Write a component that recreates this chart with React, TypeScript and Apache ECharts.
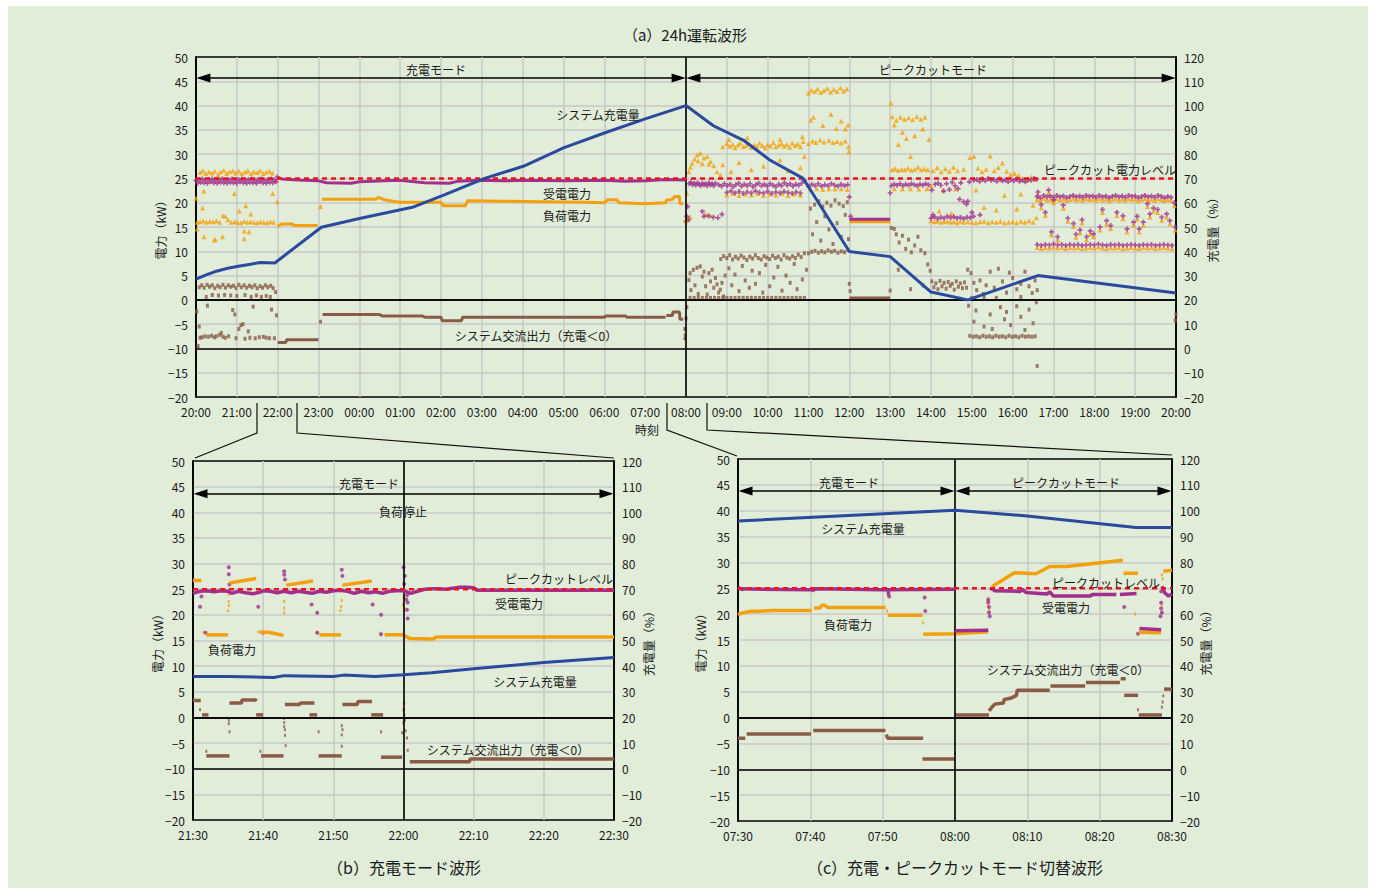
import React, { useEffect, useRef } from 'react';
import * as echarts from 'echarts';

// ---------- common values ----------
const PEAK_CUT_KW = 25;
const KW_AXIS = { min: -20, max: 50, interval: 5 };
const SOC_AXIS = { min: -20, max: 120, interval: 10 };

// ---------- (a) 24h: x = hours after 20:00 ----------
const A_START_HOUR = 20;
const A_SWITCH = 12;
const A_SOC = [[0, 28.5], [0.25, 30.3], [0.5, 31.8], [0.75, 32.9], [1, 33.7], [1.3, 34.6], [1.58, 35.4], [1.93, 35.2], [3.07, 49.9], [4.03, 53.6], [5.3, 58.1], [6.08, 63.2], [7.07, 70], [8.03, 75.1], [9.0, 82.6], [10.0, 88.7], [11.0, 94.5], [12.0, 100], [12.67, 91.7], [13.4, 85.8], [14.05, 77.6], [14.87, 70], [16.0, 39.9], [17.0, 37.8], [18.0, 23.2], [18.9, 20], [20.62, 30], [24, 22.8]];
const A_LOAD_SEGS = [
  [[2.0, 15.1], [2.08, 15.6], [2.35, 15.6], [2.42, 15.3], [2.98, 15.3]],
  [[3.08, 20.7], [4.4, 20.7], [4.47, 21.1], [4.62, 20.6], [4.9, 20.2], [5.0, 20.1], [6.0, 20.1], [6.05, 19.4], [6.6, 19.4], [6.65, 20.4], [7.5, 20.3], [8.5, 20.2], [9.5, 20.1], [10.0, 20.0], [10.08, 20.6], [10.3, 20.6], [10.36, 20.0], [11.0, 19.8], [11.5, 20.0], [11.52, 20.5], [11.67, 20.7], [11.72, 21.3], [11.84, 21.3], [11.85, 19.8], [11.93, 19.8]],
  [[11.94, 16.1], [12.0, 16.2]],
  [[16.0, 16.1], [17.0, 16.1]],
];
const A_RECV_SEGS = [
  [[2.0, 25.2], [2.1, 24.9], [2.5, 24.7], [3.0, 24.5], [3.2, 24.1], [3.8, 24.0], [4.0, 24.3], [4.6, 24.5], [5.0, 24.6], [5.6, 24.1], [6.2, 24.0], [6.4, 24.4], [7.0, 24.6], [7.5, 24.5], [8.0, 24.6], [9.0, 24.5], [10.0, 24.6], [10.5, 24.4], [11.0, 24.5], [11.5, 24.8], [12.0, 24.7]],
  [[16.0, 16.6], [17.0, 16.6]],
];
const A_AC_SEGS = [
  [[2.0, -8.8], [2.2, -8.8], [2.22, -8.2], [3.0, -8.2]],
  [[3.1, -3.0], [4.5, -3.0], [4.55, -3.3], [5.55, -3.3], [5.6, -3.6], [6.0, -3.6], [6.03, -4.3], [6.5, -4.3], [6.53, -3.6], [10.0, -3.6], [10.03, -3.3], [10.52, -3.3], [10.55, -3.6], [11.5, -3.6]],
  [[11.52, -3.2], [11.67, -3.2], [11.68, -2.5], [11.84, -2.5], [11.85, -4.0], [11.93, -4.0]],
  [[11.94, -8.0], [12.0, -8.0]],
  [[16.0, 0.4], [17.0, 0.4]],
];
const A_LOAD_DOTS = [
  [0.1, 26.2], [0.17, 26.6], [0.24, 26.0], [0.32, 26.4], [0.39, 26.1], [0.46, 26.5], [0.54, 25.8], [0.6, 26.3], [0.68, 26.7], [0.75, 26.0], [0.82, 26.4], [0.9, 26.6], [0.97, 26.1], [1.05, 26.5], [1.12, 26.0], [1.2, 26.3], [1.27, 26.6], [1.35, 26.0], [1.42, 26.4], [1.5, 26.2], [1.57, 26.6], [1.65, 26.0], [1.72, 26.3], [1.8, 26.5], [1.87, 26.1],
  [0.03, 16.0], [0.1, 16.1], [0.18, 16.3], [0.26, 16.0], [0.34, 16.2], [0.42, 16.1], [0.5, 16.3], [0.58, 16.0], [0.66, 17.3], [0.72, 17.2], [0.78, 16.5], [0.86, 16.0], [0.94, 16.1], [1.02, 16.0], [1.1, 15.9], [1.18, 16.2], [1.26, 16.0], [1.34, 16.1], [1.42, 16.0], [1.5, 15.9], [1.58, 16.1], [1.66, 16.0], [1.74, 15.9], [1.82, 16.1], [1.9, 16.0],
  [0.0, 20.9], [0.03, 14.6], [0.16, 18.9], [0.19, 22.4], [0.2, 13.0], [0.45, 12.3], [0.47, 12.5], [0.65, 13.0], [0.94, 21.9], [1.06, 18.3], [1.18, 14.2], [1.18, 12.6], [1.22, 19.4], [1.3, 14.0], [1.34, 17.7], [1.88, 21.9], [1.99, 20.2], [1.97, 24.8], [3.05, 19.2],
  [12.0, 16.3], [12.02, 22.0], [12.07, 26.4], [12.11, 27.3], [12.15, 28.1], [12.21, 29.0], [12.27, 29.8], [12.35, 30.2], [12.44, 29.2], [12.52, 29.5], [12.6, 28.5], [12.68, 27.6], [12.76, 26.4], [12.84, 25.7], [12.3, 28.6], [12.4, 28.0], [12.56, 27.9], [12.05, 16.6], [12.1, 17.1], [12.48, 17.6], [12.6, 17.3],
  [12.9, 31.5], [13.0, 32.2], [13.07, 31.6], [13.14, 32.0], [13.2, 31.3], [13.27, 31.9], [13.33, 32.3], [13.4, 31.5], [13.47, 31.8], [13.54, 32.2], [13.6, 31.4], [13.67, 31.9], [13.74, 31.6], [13.8, 32.3], [13.87, 31.8], [13.94, 31.3], [14.0, 32.0], [14.07, 31.7], [14.14, 32.4], [14.2, 31.5], [14.27, 31.9], [14.34, 32.2], [14.4, 31.6], [14.47, 32.0], [14.54, 31.4], [14.6, 32.3], [14.67, 31.8], [14.74, 32.1], [14.8, 31.5], [14.87, 32.6],
  [13.05, 33.0], [13.5, 33.4], [14.3, 33.0], [14.85, 33.6],
  [12.9, 27.8], [13.1, 26.4], [13.3, 28.3], [13.6, 26.8], [13.9, 27.5], [14.3, 28.8], [14.5, 26.6], [14.8, 27.2], [14.9, 29.5],
  [13.0, 21.6], [13.15, 21.9], [13.3, 21.5], [13.45, 21.8], [13.6, 21.6], [13.75, 21.9], [13.9, 21.5], [14.05, 21.8], [14.2, 21.6], [14.35, 21.9], [14.5, 21.5], [14.65, 21.8], [14.8, 21.6],
  [15.0, 42.6], [15.07, 43.2], [15.15, 42.9], [15.22, 43.4], [15.3, 42.7], [15.38, 43.1], [15.46, 43.5], [15.54, 42.8], [15.62, 43.3], [15.7, 42.9], [15.78, 43.6], [15.86, 43.0], [15.94, 43.4],
  [15.05, 37.0], [15.12, 37.6], [15.35, 35.9], [15.55, 38.2], [15.68, 35.3], [15.8, 36.8], [15.9, 35.2], [15.97, 36.0],
  [15.0, 32.2], [15.1, 32.7], [15.18, 32.4], [15.28, 32.9], [15.38, 32.5], [15.5, 32.8], [15.6, 32.4], [15.7, 32.6], [15.8, 32.3], [15.9, 32.7], [15.98, 31.5], [15.99, 30.5],
  [15.05, 22.8], [15.2, 22.9], [15.35, 22.7], [15.5, 22.9], [15.65, 22.8], [15.8, 22.9], [15.95, 22.7],
  [17.02, 40.5], [17.05, 37.7], [17.15, 37.0], [17.25, 37.6], [17.35, 37.2], [17.45, 37.5], [17.55, 37.1], [17.65, 37.7], [17.75, 37.2], [17.85, 37.6],
  [17.1, 36.0], [17.3, 34.5], [17.4, 33.2], [17.6, 33.8], [17.8, 35.2], [17.95, 33.0], [17.5, 29.5], [17.2, 32.0],
  [17.05, 26.8], [17.12, 27.0], [17.2, 26.7], [17.28, 26.9], [17.36, 26.8], [17.44, 27.1], [17.52, 26.7], [17.6, 26.9], [17.68, 27.3], [17.76, 26.8], [17.84, 27.0], [17.92, 26.8],
  [17.1, 22.9], [17.3, 22.8], [17.5, 22.9], [17.7, 22.8], [17.9, 22.9],
  [18.05, 26.6], [18.15, 27.2], [18.25, 26.4], [18.35, 27.0], [18.45, 26.5], [18.55, 27.3], [18.65, 26.6], [18.8, 26.9], [18.95, 29.3], [19.05, 29.5], [19.15, 27.1], [19.25, 26.4], [19.35, 26.9], [19.45, 29.6], [19.55, 26.6], [19.65, 27.2], [19.75, 28.2], [19.85, 26.5], [19.95, 25.8], [20.05, 26.0], [20.15, 25.6], [20.25, 25.0], [20.35, 24.6], [20.45, 25.3], [20.55, 24.8],
  [18.0, 23.5], [18.3, 22.6], [18.6, 22.8], [19.1, 22.6], [19.8, 21.5], [20.2, 21.8], [20.5, 19.5],
  [18.0, 16.3], [18.08, 16.1], [18.16, 16.2], [18.24, 16.0], [18.32, 16.1], [18.4, 16.2], [18.48, 16.0], [18.56, 16.1], [18.64, 15.9], [18.72, 16.2], [18.8, 16.0], [18.9, 16.1], [19.0, 16.0], [19.1, 15.9], [19.2, 16.1], [19.3, 16.2], [19.4, 15.9], [19.5, 16.1], [19.6, 16.0], [19.7, 16.2], [19.8, 15.9], [19.9, 16.0], [20.0, 16.1], [20.1, 15.9], [20.2, 16.2], [20.3, 16.0], [20.4, 16.3], [20.5, 16.0], [20.58, 16.9],
  [18.2, 18.3], [18.5, 17.8], [19.3, 19.0], [19.6, 18.5], [20.1, 18.7],
];
const A_RECV_DOTS = [
  [0.0, 24.6], [0.04, 24.0], [0.08, 24.8], [0.12, 24.2], [0.16, 24.9], [0.2, 24.1], [0.24, 24.7], [0.28, 24.0], [0.32, 24.8], [0.36, 24.3], [0.4, 24.9], [0.44, 24.1], [0.48, 24.7], [0.52, 24.0], [0.56, 24.8], [0.6, 24.2], [0.64, 24.9], [0.68, 24.1], [0.72, 24.6], [0.76, 24.0], [0.8, 24.8], [0.84, 24.2], [0.88, 24.9], [0.92, 24.1], [0.96, 24.7], [1.0, 24.0], [1.04, 24.8], [1.08, 24.3], [1.12, 24.9], [1.16, 24.1], [1.2, 24.7], [1.24, 24.0], [1.28, 24.8], [1.32, 24.2], [1.36, 24.9], [1.4, 24.1], [1.44, 24.6], [1.48, 24.0], [1.52, 24.8], [1.56, 24.3], [1.6, 24.9], [1.64, 24.1], [1.68, 24.7], [1.72, 24.0], [1.76, 24.8], [1.8, 24.2], [1.84, 24.9], [1.88, 24.1], [1.92, 24.7], [1.96, 24.3], [1.99, 25.3],
  [12.02, 17.2], [12.04, 19.2], [12.06, 16.5], [12.08, 23.9], [12.12, 24.2], [12.16, 23.7], [12.2, 24.0], [12.24, 23.6], [12.28, 24.1], [12.32, 23.8], [12.36, 23.5], [12.4, 24.0], [12.44, 23.7], [12.48, 23.9], [12.52, 23.5], [12.56, 24.1], [12.6, 23.7], [12.64, 23.9], [12.68, 23.5], [12.72, 24.0],
  [12.4, 18.2], [12.44, 17.2], [12.55, 17.3], [12.67, 17.0], [12.78, 16.9], [12.88, 17.6],
  [12.8, 23.7], [12.87, 23.4], [12.94, 23.9], [13.01, 23.5], [13.08, 23.8], [13.15, 23.3], [13.22, 23.7], [13.29, 24.0], [13.36, 23.4], [13.43, 23.8], [13.5, 23.5], [13.57, 23.9], [13.64, 23.3], [13.71, 23.7], [13.78, 24.0], [13.85, 23.5], [13.92, 23.8], [13.99, 23.4], [14.06, 23.9], [14.13, 23.6], [14.2, 23.3], [14.27, 23.8], [14.34, 23.5], [14.41, 24.1], [14.48, 23.6], [14.55, 23.9], [14.62, 23.4], [14.69, 23.8], [14.76, 23.6], [14.83, 24.0], [14.9, 24.5],
  [13.0, 22.1], [13.1, 22.4], [13.2, 22.0], [13.3, 22.3], [13.4, 21.9], [13.5, 22.2], [13.6, 22.0], [13.7, 22.4], [13.8, 22.1], [13.9, 22.0], [14.0, 22.3], [14.1, 21.9], [14.2, 22.2], [14.3, 22.0], [14.4, 22.3], [14.5, 22.1], [14.6, 21.9], [14.7, 22.2], [14.8, 22.0],
  [15.0, 23.4], [15.08, 23.8], [15.16, 23.5], [15.24, 23.9], [15.32, 23.4], [15.4, 23.7], [15.48, 23.5], [15.56, 23.9], [15.64, 23.6], [15.72, 23.4], [15.8, 23.8], [15.88, 23.5], [15.96, 23.7], [16.0, 21.2], [16.03, 17.2],
  [17.0, 22.0], [17.03, 23.5], [17.1, 23.8], [17.17, 23.6], [17.24, 23.9], [17.31, 23.5], [17.38, 23.8], [17.45, 23.6], [17.52, 23.9], [17.59, 23.7], [17.66, 23.5], [17.73, 23.8], [17.8, 23.6], [17.87, 23.9], [17.94, 23.7],
  [18.02, 22.6], [18.05, 17.5], [18.1, 23.8], [18.17, 24.0], [18.24, 23.6], [18.31, 22.4], [18.38, 23.9], [18.45, 22.7], [18.52, 24.2], [18.59, 23.5], [18.66, 22.9], [18.73, 24.1], [18.8, 20.2], [18.87, 19.7], [18.94, 24.3], [19.0, 18.0], [19.05, 24.6], [19.12, 24.8], [19.19, 24.4], [19.26, 24.9], [19.33, 24.5], [19.4, 25.0], [19.47, 24.6], [19.54, 24.8], [19.61, 24.4], [19.68, 24.9], [19.75, 24.5], [19.82, 24.7], [19.89, 24.3], [19.96, 24.8], [20.03, 24.5], [20.1, 24.9], [20.17, 24.4], [20.24, 24.7], [20.31, 24.3], [20.38, 24.8], [20.45, 24.6], [20.52, 25.0], [20.58, 24.8],
  [18.0, 16.8], [18.08, 17.1], [18.16, 16.7], [18.24, 17.0], [18.32, 16.8], [18.4, 17.2], [18.48, 16.9], [18.56, 17.1], [18.64, 16.8], [18.72, 17.0], [18.8, 16.7], [18.88, 17.0], [18.96, 16.9], [19.04, 17.2], [19.2, 17.5], [18.7, 20.7], [18.9, 20.3],
];
// after 16:37 the battery output is ~0, so load power equals received power
const A_EVENING_DOTS = [
  [20.6, 21.3], [20.68, 21.0], [20.76, 21.5], [20.84, 21.2], [20.92, 21.4], [21.0, 21.1], [21.08, 21.5], [21.16, 21.2], [21.24, 21.4], [21.32, 21.0], [21.4, 21.3], [21.48, 21.5], [21.56, 21.2], [21.64, 21.4], [21.72, 21.1], [21.8, 21.5], [21.88, 21.3], [21.96, 21.4], [22.04, 21.1], [22.12, 21.5], [22.2, 21.2], [22.28, 21.4], [22.36, 21.0], [22.44, 21.3], [22.52, 21.5], [22.6, 21.2], [22.68, 21.4], [22.76, 21.1], [22.84, 21.5], [22.92, 21.3], [23.0, 21.4], [23.08, 21.0], [23.16, 21.3], [23.24, 21.5], [23.32, 21.2], [23.4, 21.4], [23.48, 21.1], [23.56, 21.5], [23.64, 21.3], [23.72, 21.0], [23.8, 21.3], [23.88, 21.1], [23.96, 20.0],
  [20.6, 11.4], [20.7, 11.2], [20.8, 11.4], [20.9, 11.3], [21.0, 11.5], [21.1, 11.3], [21.2, 11.4], [21.3, 11.2], [21.4, 11.4], [21.5, 11.3], [21.6, 11.4], [21.7, 11.2], [21.8, 11.3], [21.9, 11.4], [22.0, 11.3], [22.1, 11.5], [22.2, 11.3], [22.3, 11.2], [22.4, 11.4], [22.5, 11.3], [22.6, 11.4], [22.7, 11.2], [22.8, 11.3], [22.9, 11.4], [23.0, 11.3], [23.1, 11.2], [23.2, 11.4], [23.3, 11.3], [23.4, 11.4], [23.5, 11.2], [23.6, 11.3], [23.7, 11.4], [23.8, 11.3], [23.9, 11.2],
  [20.62, 22.2], [20.7, 19.6], [20.8, 18.0], [20.88, 22.6], [20.95, 14.0], [21.0, 20.6], [21.1, 13.0], [21.24, 19.5], [21.35, 16.8], [21.49, 15.7], [21.55, 13.5], [21.65, 14.4], [21.81, 13.0], [21.9, 14.2], [21.98, 13.6], [22.14, 15.0], [22.3, 16.3], [22.4, 15.3], [22.55, 18.0], [22.7, 17.3], [22.8, 14.6], [22.96, 16.0], [23.05, 17.2], [23.1, 14.6], [23.2, 16.0], [23.36, 17.7], [23.45, 18.9], [23.55, 18.6], [23.65, 17.0], [23.77, 17.7], [23.85, 16.3], [23.98, 15.0], [22.2, 18.6], [21.7, 16.5], [23.3, 19.8],
];
const A_AC_DOTS = [
  [0.08, 2.6], [0.14, 3.0], [0.2, 2.5], [0.27, 3.1], [0.33, 2.7], [0.4, 3.0], [0.46, 2.4], [0.53, 2.9], [0.59, 2.6], [0.66, 3.1], [0.72, 2.5], [0.79, 3.0], [0.85, 2.7], [0.92, 2.9], [0.98, 2.4], [1.05, 3.1], [1.11, 2.6], [1.18, 3.0], [1.24, 2.5], [1.31, 2.9], [1.37, 2.6], [1.44, 3.0], [1.5, 2.4], [1.57, 2.8], [1.63, 2.5], [1.7, 3.0], [1.76, 2.6], [1.83, 2.9], [1.89, 2.4], [1.95, 1.6],
  [0.25, 0.6], [0.4, 1.0], [0.55, 0.9], [0.7, 1.0], [0.85, 0.9], [1.0, 0.8], [1.2, 1.0], [1.35, 0.6], [1.48, 0.9], [1.6, 0.6], [1.72, 0.8], [1.82, 0.6],
  [0.02, -2.4], [0.05, -9.5], [0.08, -5.5], [0.1, -7.8], [0.15, -7.7], [0.22, -7.5], [0.28, -1.2], [0.3, -7.6], [0.38, -7.4], [0.45, -7.7], [0.5, -7.5], [0.58, -7.2], [0.62, -6.8], [0.66, -7.6], [0.72, -7.8], [0.8, -7.5], [0.9, -2.1], [0.95, -3.0], [0.98, -7.9], [1.05, -6.0], [1.1, -5.2], [1.15, -5.0], [1.2, -8.0], [1.28, -6.5], [1.32, -7.8], [1.4, -1.4], [1.45, -7.9], [1.55, -7.7], [1.65, -7.6], [1.72, -7.8], [1.8, -7.9], [1.85, -2.0], [1.92, -7.9], [1.97, -3.2], [3.05, -4.5],
  [11.97, -6.0], [11.98, -7.3], [12.0, -3.8], [12.02, -1.5],
  [12.07, 4.1], [12.1, 5.5], [12.12, 2.0], [12.18, 6.2], [12.22, 3.0], [12.27, 6.6], [12.3, 1.2], [12.35, 6.9], [12.4, 4.8], [12.44, 5.8], [12.48, 2.8], [12.52, 1.1], [12.56, 5.5], [12.6, 3.8], [12.64, 6.2], [12.68, 2.5], [12.72, 4.5], [12.76, 3.2], [12.8, 1.5], [12.84, 2.1], [12.88, 3.5], [12.92, 0.7], [12.96, 5.0],
  [12.1, 0.4], [12.2, 0.4], [12.3, 0.4], [12.4, 0.4], [12.5, 0.4], [12.6, 0.4], [12.7, 0.4], [12.8, 0.4], [12.9, 0.4], [13.0, 0.4], [13.1, 0.4], [13.2, 0.4], [13.3, 0.4], [13.4, 0.4], [13.5, 0.4], [13.6, 0.4], [13.7, 0.4], [13.8, 0.4], [13.9, 0.4], [14.0, 0.4], [14.1, 0.4], [14.2, 0.4], [14.3, 0.4], [14.4, 0.4], [14.5, 0.4], [14.6, 0.4], [14.7, 0.4], [14.8, 0.4], [14.9, 0.4],
  [12.85, 8.4], [12.92, 9.0], [13.0, 8.6], [13.07, 9.2], [13.14, 8.3], [13.21, 8.9], [13.28, 8.5], [13.35, 9.1], [13.42, 8.7], [13.49, 8.2], [13.56, 8.9], [13.63, 8.5], [13.7, 9.2], [13.77, 8.6], [13.84, 8.3], [13.91, 9.0], [13.98, 8.7], [14.05, 8.4], [14.12, 9.1], [14.19, 8.6], [14.26, 8.9], [14.33, 8.3], [14.4, 9.2], [14.47, 8.7], [14.54, 8.5], [14.61, 9.0], [14.68, 8.6], [14.75, 9.3], [14.82, 8.8], [14.9, 9.6],
  [13.05, 6.5], [13.12, 3.0], [13.2, 5.2], [13.3, 1.8], [13.38, 7.0], [13.45, 4.0], [13.55, 2.5], [13.62, 6.0], [13.7, 3.3], [13.8, 5.5], [13.88, 1.5], [13.95, 7.2], [14.05, 2.8], [14.15, 4.6], [14.25, 6.8], [14.35, 1.9], [14.45, 5.0], [14.55, 3.5], [14.65, 7.4], [14.72, 2.2], [14.85, 4.2], [14.95, 6.2],
  [15.0, 9.6], [15.08, 9.9], [15.16, 10.1], [15.24, 9.7], [15.32, 10.0], [15.4, 9.8], [15.48, 10.2], [15.56, 9.9], [15.64, 10.1], [15.72, 9.7], [15.8, 10.0], [15.88, 9.8], [15.96, 10.3],
  [15.05, 18.8], [15.15, 19.6], [15.25, 20.3], [15.35, 19.2], [15.45, 20.0], [15.55, 19.4], [15.65, 20.5], [15.75, 19.8], [15.85, 19.3], [15.95, 20.1],
  [15.1, 13.5], [15.2, 16.0], [15.3, 12.2], [15.4, 17.2], [15.5, 14.5], [15.6, 11.5], [15.7, 15.8], [15.8, 13.0], [15.9, 17.5], [15.98, 12.5], [16.0, 3.3], [16.02, 1.8],
  [17.0, 1.9], [17.03, 14.8], [17.1, 14.6], [17.15, 13.5], [17.22, 11.8], [17.3, 13.2], [17.38, 10.5], [17.45, 12.4], [17.52, 9.8], [17.6, 11.2], [17.68, 13.0], [17.75, 10.2], [17.85, 9.6], [17.92, 7.3], [17.98, 6.0], [17.2, 6.2], [17.5, 2.2], [17.8, 3.0],
  [18.02, 3.8], [18.07, 2.6], [18.12, 3.4], [18.17, 2.2], [18.22, 3.9], [18.27, 2.8], [18.32, 3.5], [18.37, 2.3], [18.42, 3.7], [18.47, 2.9], [18.52, 3.3], [18.57, 2.1], [18.62, 3.8], [18.67, 2.7], [18.72, 3.4], [18.77, 2.4], [18.82, 3.6], [18.87, 2.5],
  [18.9, 6.2], [18.98, 5.5], [19.05, 3.5], [19.12, 2.0], [19.2, 4.0], [19.28, 1.2], [19.35, 3.0], [19.45, 5.8], [19.55, 2.5], [19.65, 6.4], [19.75, 3.8], [19.85, 1.5], [19.92, 5.6], [20.0, 4.5], [20.1, 2.2], [20.2, 3.3], [20.3, 5.8], [20.4, 2.8], [20.48, 1.4], [20.55, 4.0], [20.6, 2.0],
  [19.0, 0.4], [19.3, 0.5], [19.6, 0.4], [20.2, 0.6],
  [18.95, -7.4], [19.03, -7.6], [19.11, -7.5], [19.19, -7.7], [19.27, -7.4], [19.35, -7.6], [19.43, -7.5], [19.51, -7.7], [19.59, -7.4], [19.67, -7.6], [19.75, -7.5], [19.83, -7.7], [19.91, -7.4], [19.99, -7.6], [20.07, -7.5], [20.15, -7.7], [20.23, -7.4], [20.31, -7.6], [20.39, -7.5], [20.47, -7.6], [20.55, -7.5],
  [18.92, -1.2], [19.05, -4.5], [19.1, -2.2], [19.3, -5.5], [19.45, -3.0], [19.5, -6.0], [19.7, -1.5], [19.8, -4.0], [19.85, -2.5], [19.95, -5.2], [20.1, -1.3], [20.2, -3.5], [20.3, -6.2], [20.4, -2.0], [20.5, -4.8], [20.58, -0.5], [20.6, -13.6], [24.0, -3.0], [23.98, -4.2],
];

// ---------- (b) 21:30-22:30: x = minutes after 21:30 ----------
const B_START_MIN = 21 * 60 + 30;
const B_SWITCH = 30;
const B_SOC = [[0, 36.0], [5, 36.0], [10, 35.7], [11.5, 35.6], [13, 36.3], [20, 36.0], [21.5, 36.5], [26, 36.0], [30, 36.6], [34, 37.4], [40, 39.0], [50, 41.4], [60, 43.4]];
const B_RECV_SEGS = [
  [[0, 24.2], [1, 24.6], [2, 24.7], [3, 24.5], [4, 24.7], [5, 24.6], [5.5, 24.2], [6.5, 24.6], [7.5, 24.3], [8.5, 24.1], [9.5, 24.4], [10, 24.7], [11, 24.6], [12, 24.3], [13, 24.6], [14, 24.3], [15, 24.6], [16, 24.4], [17, 24.2], [18, 24.6], [19, 24.4], [20, 24.7], [21, 24.8], [22, 24.6], [23, 24.2], [24, 24.6], [25, 24.3], [26, 24.5], [27, 24.2], [28, 24.6], [29, 24.7], [30, 24.7], [31, 24.2], [32, 24.6], [33, 25.0], [34, 25.1], [35, 25.1], [36, 25.0], [37, 25.2], [38, 25.4], [39, 25.4], [40, 25.3], [40.5, 24.8], [45, 24.8], [50, 24.8], [60, 24.8]],
];
const B_RECV_DOTS = [[1.0, 21.6], [1.2, 23.6], [1.8, 16.5], [5.1, 29.3], [5.1, 27.9], [5.2, 25.9], [9.3, 21.6], [10.0, 16.5], [13.0, 28.5], [13.0, 27.8], [13.1, 26.9], [16.9, 22.0], [17.7, 20.4], [17.7, 16.5], [21.2, 28.8], [21.3, 27.6], [25.6, 22.0], [26.8, 20.0], [26.8, 16.2], [30.0, 29.3], [30.2, 27.6], [30.1, 26.0], [30.5, 23.8], [30.4, 23.0], [30.6, 22.4], [30.5, 21.0], [30.6, 19.3]];
const B_LOAD_SEGS = [
  [[0, 26.7], [1.2, 26.7]],
  [[1.9, 16.1], [5.0, 16.1]],
  [[5.2, 26.2], [9.0, 27.1]],
  [[9.5, 16.6], [10.8, 16.6], [12.9, 16.0]],
  [[13.3, 25.8], [17.1, 26.6]],
  [[18.0, 16.1], [21.1, 16.1]],
  [[21.3, 25.8], [25.5, 26.6]],
  [[27.3, 16.1], [29.9, 16.1], [30.9, 15.4], [34.2, 15.3], [34.7, 15.7], [60, 15.7]],
];
const B_LOAD_DOTS = [[5.1, 24.0], [5.1, 22.6], [5.1, 21.8], [5.0, 20.8], [13.0, 22.6], [13.0, 21.3], [13.0, 20.4], [21.2, 22.8], [21.1, 21.6], [21.0, 20.8], [29.9, 22.0], [30.1, 21.2], [30.0, 23.4], [1.5, 16.6], [9.3, 16.7], [17.7, 16.6], [26.7, 16.4]];
const B_AC_SEGS = [
  [[0, 3.3], [1.1, 3.3]],
  [[1.3, 0.5], [2.2, 0.5]],
  [[5.2, 2.8], [6.9, 2.8], [7.0, 3.4], [8.9, 3.4], [9.0, 3.7]],
  [[9.0, 0.5], [10.0, 0.5]],
  [[13.1, 2.5], [15.2, 2.5], [15.3, 2.8], [17.3, 2.8]],
  [[16.6, 0.5], [17.7, 0.5]],
  [[21.3, 2.5], [23.4, 2.5], [23.5, 3.1], [25.5, 3.1]],
  [[25.4, 0.5], [27.1, 0.5]],
  [[1.9, -7.5], [5.2, -7.5]],
  [[9.7, -7.5], [12.9, -7.5]],
  [[17.9, -7.5], [21.2, -7.5]],
  [[26.8, -7.75], [29.8, -7.75]],
  [[30.9, -8.65], [39.4, -8.65], [39.5, -8.1], [60, -8.1]],
];
const B_AC_DOTS = [[1.0, 1.5], [5.1, -0.5], [5.1, -1.2], [5.2, -2.8], [1.9, -6.6], [9.6, -6.6], [13.0, -0.2], [13.0, -1.0], [13.0, -1.8], [13.1, -2.4], [13.1, -3.5], [13.2, -5.5], [17.9, -2.8], [21.2, -1.6], [21.3, -2.4], [21.2, -3.4], [21.2, -5.6], [26.8, -2.8], [29.8, -3.0], [30.0, -1.0], [30.1, 0.5], [30.0, 1.5], [30.1, 2.8], [30.2, -0.5], [30.3, -2.6], [30.5, -4.0], [30.6, -6.4]];

// ---------- (c) 07:30-08:30: x = minutes after 07:30 ----------
const C_START_MIN = 7 * 60 + 30;
const C_SWITCH = 30;
const C_SOC = [[0, 96.0], [30, 100.2], [40, 98.0], [55, 93.5], [60, 93.5]];
const C_RECV_SEGS = [
  [[0, 24.9], [10, 24.7], [11, 24.9], [20, 24.7], [30, 24.8]],
  [[30, 16.8], [34.6, 16.9]],
  [[35.1, 25.0], [35.5, 24.5], [39, 24.4], [39.3, 24.8], [39.8, 24.2], [42.7, 23.9], [43.1, 24.3], [43.6, 23.5], [48.7, 23.5], [49, 23.8], [52.3, 23.8]],
  [[52.8, 23.8], [55.1, 24.0]],
  [[55.5, 17.2], [58.5, 17.0]],
  [[58.6, 25.4], [59.0, 24.1], [59.5, 23.5], [60, 23.9]],
];
const C_RECV_DOTS = [[0.2, 25.0], [0.6, 24.8], [10.4, 24.6], [10.8, 24.9], [20.8, 24.3], [20.8, 23.9], [20.9, 23.4], [25.8, 23.2], [25.9, 20.6], [34.6, 22.8], [34.6, 22.3], [34.7, 21.4], [34.7, 20.3], [34.8, 19.6], [35.0, 24.9], [53.4, 21.4], [55.3, 16.2], [58.5, 22.2], [58.5, 21.1], [58.6, 20.3], [58.4, 19.6], [58.5, 24.4]];
const C_LOAD_SEGS = [
  [[0, 19.9], [0.5, 20.2], [1.5, 20.5], [5, 20.7], [10.2, 20.7]],
  [[10.5, 21.2], [11.3, 21.2], [11.6, 21.7], [12.0, 21.7], [12.4, 21.3], [20.4, 21.3]],
  [[20.7, 19.8], [25.5, 19.8]],
  [[25.6, 16.1], [30, 16.2], [34.6, 16.6]],
  [[35.1, 25.3], [36.6, 26.6], [38.2, 28.0], [41.2, 27.8], [43.1, 29.2], [45.4, 29.2], [53.2, 30.4]],
  [[53.3, 27.9], [55.3, 27.9]],
  [[55.4, 16.5], [58.5, 16.4]],
  [[58.8, 28.3], [60, 28.5]],
];
const C_LOAD_DOTS = [[20.6, 20.6], [25.6, 18.3], [34.6, 21.8], [34.7, 20.8], [34.6, 23.1], [54.9, 20.0], [58.6, 20.1], [58.6, 21.6], [58.7, 26.8], [58.6, 27.6]];
const C_AC_SEGS = [
  [[0, -4.0], [1.0, -4.0]],
  [[1.2, -3.2], [10.1, -3.2]],
  [[10.4, -2.5], [20.4, -2.5]],
  [[20.5, -3.3], [20.7, -4.0], [25.6, -4.0]],
  [[25.5, -8.0], [30, -8.0]],
  [[30, 0.5], [34.7, 0.5]],
  [[34.7, 1.3], [35.1, 2.0], [35.5, 2.6], [36.7, 2.8], [36.8, 3.5], [37.8, 3.8], [38.5, 4.3], [38.6, 5.3], [43.1, 5.3]],
  [[43.2, 6.1], [48.0, 6.1]],
  [[48.1, 6.8], [52.8, 6.8]],
  [[52.9, 7.5], [53.6, 7.5]],
  [[53.4, 4.3], [55.3, 4.3]],
  [[55.4, 0.5], [58.6, 0.5]],
  [[58.9, 5.5], [60, 5.5]],
];
const C_AC_DOTS = [[30.0, -6.9], [55.3, 1.5], [58.6, 2.0], [58.7, 3.0], [58.8, 4.2]];

// ---------- styling ----------
const FONT = '"Noto Sans CJK JP", "Noto Sans", sans-serif';
const COL_BLUE = '#2a4a9e';
const COL_ORANGE = '#f4a00c';
const COL_PURPLE = '#a02f8e';
const COL_BROWN = '#8a5c48';
const COL_RED = '#e8141e';
const COL_GRID = '#c9c9c9';
const TEXT = '#1a1a1a';
const PLUS = 'path://M2,0H4V2H6V4H4V6H2V4H0V2H2Z';

const pad = (n: number) => (n < 10 ? '0' : '') + n;
const minLabel = (start: number) => (v: number) => {
  const m = start + v;
  return pad(Math.floor(m / 60) % 24) + ':' + pad(m % 60);
};
const minus = (v: number) => String(v).replace('-', '\u2212');

const GRIDS = [
  { left: 196, top: 57, width: 980, height: 340 },
  { left: 193, top: 461, width: 421, height: 359 },
  { left: 738, top: 459, width: 434, height: 362 },
];
const LEFT_NAME_GAP = [30, 30, 32];
const RIGHT_NAME_GAP = [30, 28, 27];

function lineSegs(segs: number[][][], p: number, color: string, width: number, z: number) {
  return segs.map((d) => ({
    type: 'line', xAxisIndex: p, yAxisIndex: p * 2, data: d, symbol: 'none', showSymbol: false,
    lineStyle: { color, width }, z, silent: true,
  }));
}
function dots(data: number[][], p: number, symbol: string, size: any, color: string, z: number, offset?: number[]) {
  return {
    type: 'scatter', xAxisIndex: p, yAxisIndex: p * 2, data, symbol, symbolSize: size,
    symbolOffset: offset || [0, 0], itemStyle: { color }, z, silent: true,
  };
}
function socLine(data: number[][], p: number, width: number) {
  return {
    type: 'line', xAxisIndex: p, yAxisIndex: p * 2 + 1, data, symbol: 'none', showSymbol: false,
    lineStyle: { color: COL_BLUE, width }, z: 7, silent: true,
  };
}
function frame(p: number, xMax: number, switchX: number, arrows: number[][], arrowY: number) {
  const arrowData = arrows.map(([a, b]) => [
    { coord: [a, arrowY], symbol: 'triangle', symbolSize: [9, 14] },
    { coord: [b, arrowY], symbol: 'triangle', symbolSize: [9, 14] },
  ]);
  return {
    type: 'line', xAxisIndex: p, yAxisIndex: p * 2,
    data: [[0, PEAK_CUT_KW], [xMax, PEAK_CUT_KW]],
    symbol: 'none', showSymbol: false,
    lineStyle: { color: COL_RED, width: 2.5, type: [5, 4] }, z: 6, silent: true,
    markLine: {
      silent: true, symbol: ['none', 'none'], label: { show: false },
      lineStyle: { color: '#000', width: 1.6, type: 'solid' },
      emphasis: { disabled: true },
      data: [{ yAxis: 0 }, { yAxis: -10 }, { xAxis: switchX }, ...arrowData],
    },
  };
}

function buildOption() {
  const xAxes: any[] = [];
  const yAxes: any[] = [];
  const xCfg = [
    { max: 24, interval: 1, fmt: (v: number) => pad((A_START_HOUR + v) % 24) + ':00' },
    { max: 60, interval: 10, fmt: minLabel(B_START_MIN) },
    { max: 60, interval: 10, fmt: minLabel(C_START_MIN) },
  ];
  GRIDS.forEach((g, p) => {
    xAxes.push({
      gridIndex: p, type: 'value', min: 0, max: xCfg[p].max, interval: xCfg[p].interval,
      axisLine: { show: true, lineStyle: { color: '#000', width: 1.6 } }, axisTick: { show: false },
      splitLine: { show: true, showMinLine: false, showMaxLine: false, lineStyle: { color: COL_GRID, width: 1.5 } },
      axisLabel: { formatter: xCfg[p].fmt, fontSize: 12, color: TEXT, fontFamily: FONT, margin: 8 },
    });
    yAxes.push({
      gridIndex: p, type: 'value', position: 'left', ...KW_AXIS,
      axisLine: { show: true, lineStyle: { color: '#000', width: 1.6 } }, axisTick: { show: false },
      splitLine: { show: true, showMinLine: false, showMaxLine: false, lineStyle: { color: COL_GRID, width: 1.5 } },
      axisLabel: { formatter: minus, fontSize: 12, color: TEXT, fontFamily: FONT, margin: 8 },
      name: '電力（kW）', nameLocation: 'middle', nameRotate: 90, nameGap: LEFT_NAME_GAP[p], nameMoveOverlap: false,
      nameTextStyle: { fontSize: 12, color: TEXT, fontFamily: FONT },
    });
    yAxes.push({
      gridIndex: p, type: 'value', position: 'right', ...SOC_AXIS,
      axisLine: { show: true, lineStyle: { color: '#000', width: 1.6 } }, axisTick: { show: false },
      splitLine: { show: false },
      axisLabel: { formatter: minus, fontSize: 12, color: TEXT, fontFamily: FONT, margin: 8 },
      name: '充電量（%）', nameLocation: 'middle', nameRotate: 90, nameGap: RIGHT_NAME_GAP[p], nameMoveOverlap: false,
      nameTextStyle: { fontSize: 12, color: TEXT, fontFamily: FONT },
    });
  });

  const series: any[] = [
    // (a)
    dots(A_LOAD_DOTS, 0, 'triangle', 5, COL_ORANGE, 2),
    dots(A_EVENING_DOTS, 0, 'triangle', 5, COL_ORANGE, 2, [0, 3]),
    dots(A_AC_DOTS, 0, 'rect', [3, 4], COL_BROWN, 2),
    dots(A_RECV_DOTS, 0, PLUS, 5, COL_PURPLE, 3),
    dots(A_EVENING_DOTS, 0, PLUS, 5, COL_PURPLE, 3),
    ...lineSegs(A_LOAD_SEGS, 0, COL_ORANGE, 3, 4),
    ...lineSegs(A_AC_SEGS, 0, COL_BROWN, 3, 4),
    ...lineSegs(A_RECV_SEGS, 0, COL_PURPLE, 3, 5),
    frame(0, 24, A_SWITCH, [[0.18, 11.82], [12.18, 23.82]], 45.7),
    socLine(A_SOC, 0, 3),
    // (b)
    dots(B_LOAD_DOTS, 1, 'rect', [2, 3], COL_ORANGE, 2),
    dots(B_AC_DOTS, 1, 'rect', [2, 3], COL_BROWN, 2),
    dots(B_RECV_DOTS, 1, 'circle', 4, COL_PURPLE, 3),
    ...lineSegs(B_LOAD_SEGS, 1, COL_ORANGE, 3.5, 4),
    ...lineSegs(B_AC_SEGS, 1, COL_BROWN, 3.5, 4),
    ...lineSegs(B_RECV_SEGS, 1, COL_PURPLE, 3.5, 5),
    frame(1, 60, B_SWITCH, [[1.07, 58.93]], 43.6),
    socLine(B_SOC, 1, 3),
    // (c)
    dots(C_LOAD_DOTS, 2, 'rect', [2, 3], COL_ORANGE, 2),
    dots(C_AC_DOTS, 2, 'rect', [2, 3], COL_BROWN, 2),
    dots(C_RECV_DOTS, 2, 'circle', 4, COL_PURPLE, 3),
    ...lineSegs(C_LOAD_SEGS, 2, COL_ORANGE, 3.5, 4),
    ...lineSegs(C_AC_SEGS, 2, COL_BROWN, 3.5, 4),
    ...lineSegs(C_RECV_SEGS, 2, COL_PURPLE, 3.5, 5),
    frame(2, 60, C_SWITCH, [[1.04, 28.96], [31.04, 58.96]], 43.8),
    socLine(C_SOC, 2, 3),
  ];

  const t = (text: string, x: number, y: number, size = 12) => ({
    type: 'text', x, y, z: 50, silent: true,
    style: { text, fill: TEXT, fontSize: size, fontFamily: FONT, align: 'center', verticalAlign: 'middle', textAlign: 'center', textVerticalAlign: 'middle' },
  });
  const pl = (points: number[][]) => ({
    type: 'polyline', z: 50, silent: true, shape: { points },
    style: { stroke: '#111', lineWidth: 1.2, fill: null },
  });

  const graphic = [
    t('（a）24h運転波形', 685, 34, 15),
    t('（b）充電モード波形', 404, 867, 16),
    t('（c）充電・ピークカットモード切替波形', 955, 867, 16),
    t('充電モード', 436, 69),
    t('ピークカットモード', 933, 69),
    t('システム充電量', 598, 114),
    t('ピークカット電力レベル', 1110, 169),
    t('受電電力', 567, 193),
    t('負荷電力', 567, 215),
    t('システム交流出力（充電＜0）', 536, 335),
    t('時刻', 647, 429),
    t('充電モード', 369, 483),
    t('負荷停止', 403, 511),
    t('ピークカットレベル', 559, 578),
    t('受電電力', 519, 603),
    t('負荷電力', 232, 649),
    t('システム充電量', 535, 681),
    t('システム交流出力（充電＜0）', 508, 749),
    t('充電モード', 849, 482),
    t('ピークカットモード', 1066, 482),
    t('システム充電量', 863, 528),
    t('ピークカットレベル', 1106, 582),
    t('受電電力', 1066, 607),
    t('負荷電力', 848, 624),
    t('システム交流出力（充電＜0）', 1068, 669),
    pl([[257, 403], [257, 433], [195, 458]]),
    pl([[297, 403], [297, 433], [614, 458]]),
    pl([[667, 403], [667, 430], [737, 456]]),
    pl([[707, 403], [707, 430], [1172, 455]]),
  ];

  return {
    animation: false,
    backgroundColor: 'transparent',
    textStyle: { fontFamily: FONT },
    grid: GRIDS.map((g) => ({ ...g, containLabel: false, show: true, borderColor: '#000', borderWidth: 1.6, backgroundColor: 'transparent' })),
    xAxis: xAxes,
    yAxis: yAxes,
    series,
    graphic,
  };
}

export default function App() {
  const ref = useRef<HTMLDivElement>(null);
  useEffect(() => {
    if (!ref.current) return;
    const chart = echarts.init(ref.current, null, { renderer: 'svg' });
    chart.setOption(buildOption() as any);
    return () => chart.dispose();
  }, []);
  return (
    <div style={{ position: 'absolute', left: 0, top: 0, width: 1375, height: 888, background: '#ffffff' }}>
      <div style={{ position: 'absolute', left: 8, top: 6, width: 1360, height: 882, background: '#e1edd8' }} />
      <div ref={ref} style={{ position: 'absolute', left: 0, top: 0, width: 1375, height: 888 }} />
    </div>
  );
}
